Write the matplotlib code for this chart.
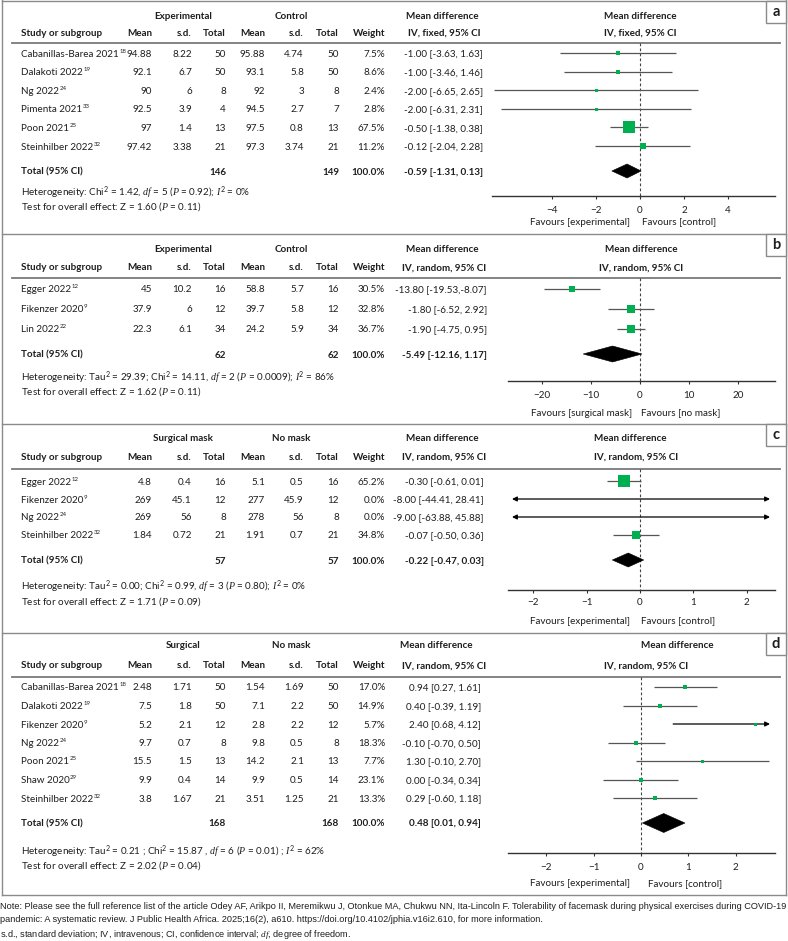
import matplotlib
matplotlib.use('Agg')
import matplotlib.pyplot as plt
from matplotlib.patches import Polygon, Rectangle
import matplotlib.font_manager as fm
import math

W, H, DPI = 788, 941, 100
FS = 7.15
TXT = '#1e1e1e'
BORDER = '#8a8a8a'
GREEN = '#00b050'
CI = '#555555'
AXC = '#333333'

plt.rcParams['font.family'] = ['Lato', 'DejaVu Sans']
plt.rcParams['mathtext.fontset'] = 'custom'
plt.rcParams['mathtext.rm'] = 'Lato'
plt.rcParams['mathtext.it'] = 'Liberation Serif:italic'
plt.rcParams['mathtext.bf'] = 'Lato:bold'

# ---------------- data: panel a ----------------
a_groups = ['Experimental', 'Control']
a_method = 'IV, fixed, 95% CI'
a_studies = ['Cabanillas-Barea 2021', 'Dalakoti 2022', 'Ng 2022', 'Pimenta 2021', 'Poon 2021', 'Steinhilber 2022']
a_refs = ['18', '19', '24', '33', '25', '32']
a_exp_mean = [94.88, 92.1, 90, 92.5, 97, 97.42]
a_exp_sd = [8.22, 6.7, 6, 3.9, 1.4, 3.38]
a_exp_n = [50, 50, 8, 4, 13, 21]
a_ctl_mean = [95.88, 93.1, 92, 94.5, 97.5, 97.3]
a_ctl_sd = [4.74, 5.8, 3, 2.7, 0.8, 3.74]
a_ctl_n = [50, 50, 8, 7, 13, 21]
a_weight = [7.5, 8.6, 2.4, 2.8, 67.5, 11.2]
a_labels = ['-1.00 [-3.63, 1.63]', '-1.00 [-3.46, 1.46]', '-2.00 [-6.65, 2.65]',
            '-2.00 [-6.31, 2.31]', '-0.50 [-1.38, 0.38]', '-0.12 [-2.04, 2.28]']
a_md = [-1.00, -1.00, -2.00, -2.00, -0.50, 0.12]
a_lo = [-3.63, -3.46, -6.65, -6.31, -1.38, -2.04]
a_hi = [1.63, 1.46, 2.65, 2.31, 0.38, 2.28]
a_total_n = [146, 149]
a_total_label = '-0.59 [-1.31, 0.13]'
a_diamond = [-1.28, -0.59, 0.05]
a_het = r'Heterogeneity: Chi$^2$ = 1.42, $\mathit{df}$ = 5 ($\mathit{P}$ = 0.92); $\mathit{I}^2$ = 0%'
a_test = r'Test for overall effect: Z = 1.60 ($\mathit{P}$ = 0.11)'
a_ticks = [-4, -2, 0, 2, 4]
a_favours = ['Favours [experimental]', 'Favours [control]']

# ---------------- data: panel b ----------------
b_groups = ['Experimental', 'Control']
b_method = 'IV, random, 95% CI'
b_studies = ['Egger 2022', 'Fikenzer 2020', 'Lin 2022']
b_refs = ['12', '9', '22']
b_exp_mean = [45, 37.9, 22.3]
b_exp_sd = [10.2, 6, 6.1]
b_exp_n = [16, 12, 34]
b_ctl_mean = [58.8, 39.7, 24.2]
b_ctl_sd = [5.7, 5.8, 5.9]
b_ctl_n = [16, 12, 34]
b_weight = [30.5, 32.8, 36.7]
b_labels = ['-13.80 [-19.53,-8.07]', '-1.80 [-6.52, 2.92]', '-1.90 [-4.75, 0.95]']
b_md = [-13.80, -1.80, -1.90]
b_lo = [-19.53, -6.52, -4.75]
b_hi = [-8.07, 2.92, 0.95]
b_total_n = [62, 62]
b_total_label = '-5.49 [-12.16, 1.17]'
b_diamond = [-11.6, -5.6, 0.4]
b_het = r'Heterogeneity: Tau$^2$ = 29.39; Chi$^2$ = 14.11, $\mathit{df}$ = 2 ($\mathit{P}$ = 0.0009); $\mathit{I}^2$ = 86%'
b_test = r'Test for overall effect: Z = 1.62 ($\mathit{P}$ = 0.11)'
b_ticks = [-20, -10, 0, 10, 20]
b_favours = ['Favours [surgical mask]', 'Favours [no mask]']

# ---------------- data: panel c ----------------
c_groups = ['Surgical mask', 'No mask']
c_method = 'IV, random, 95% CI'
c_studies = ['Egger 2022', 'Fikenzer 2020', 'Ng 2022', 'Steinhilber 2022']
c_refs = ['12', '9', '24', '32']
c_exp_mean = [4.8, 269, 269, 1.84]
c_exp_sd = [0.4, 45.1, 56, 0.72]
c_exp_n = [16, 12, 8, 21]
c_ctl_mean = [5.1, 277, 278, 1.91]
c_ctl_sd = [0.5, 45.9, 56, 0.7]
c_ctl_n = [16, 12, 8, 21]
c_weight = [65.2, 0.0, 0.0, 34.8]
c_labels = ['-0.30 [-0.61, 0.01]', '-8.00 [-44.41, 28.41]', '-9.00 [-63.88, 45.88]', '-0.07 [-0.50, 0.36]']
c_md = [-0.30, -8.00, -9.00, -0.07]
c_lo = [-0.61, -44.41, -63.88, -0.50]
c_hi = [0.01, 28.41, 45.88, 0.36]
c_total_n = [57, 57]
c_total_label = '-0.22 [-0.47, 0.03]'
c_diamond = [-0.52, -0.22, 0.07]
c_het = r'Heterogeneity: Tau$^2$ = 0.00; Chi$^2$ = 0.99, $\mathit{df}$ = 3 ($\mathit{P}$ = 0.80); $\mathit{I}^2$ = 0%'
c_test = r'Test for overall effect: Z = 1.71 ($\mathit{P}$ = 0.09)'
c_ticks = [-2, -1, 0, 1, 2]
c_favours = ['Favours [experimental]', 'Favours [control]']

# ---------------- data: panel d ----------------
d_groups = ['Surgical', 'No mask']
d_method = 'IV, random, 95% CI'
d_studies = ['Cabanillas-Barea 2021', 'Dalakoti 2022', 'Fikenzer 2020', 'Ng 2022', 'Poon 2021', 'Shaw 2020', 'Steinhilber 2022']
d_refs = ['18', '19', '9', '24', '25', '29', '32']
d_exp_mean = [2.48, 7.5, 5.2, 9.7, 15.5, 9.9, 3.8]
d_exp_sd = [1.71, 1.8, 2.1, 0.7, 1.5, 0.4, 1.67]
d_exp_n = [50, 50, 12, 8, 13, 14, 21]
d_ctl_mean = [1.54, 7.1, 2.8, 9.8, 14.2, 9.9, 3.51]
d_ctl_sd = [1.69, 2.2, 2.2, 0.5, 2.1, 0.5, 1.25]
d_ctl_n = [50, 50, 12, 8, 13, 14, 21]
d_weight = [17.0, 14.9, 5.7, 18.3, 7.7, 23.1, 13.3]
d_labels = ['0.94 [0.27, 1.61]', '0.40 [-0.39, 1.19]', '2.40 [0.68, 4.12]', '-0.10 [-0.70, 0.50]',
            '1.30 [-0.10, 2.70]', '0.00 [-0.34, 0.34]', '0.29 [-0.60, 1.18]']
d_md = [0.94, 0.40, 2.40, -0.10, 1.30, 0.00, 0.29]
d_lo = [0.27, -0.39, 0.68, -0.70, -0.10, -0.80, -0.60]
d_hi = [1.61, 1.19, 4.12, 0.50, 2.70, 0.78, 1.18]
d_total_n = [168, 168]
d_total_label = '0.48 [0.01, 0.94]'
d_diamond = [0.03, 0.48, 0.93]
d_het = r'Heterogeneity: Tau$^2$ = 0.21 ; Chi$^2$ = 15.87 , $\mathit{df}$ = 6 ($\mathit{P}$ = 0.01) ; $\mathit{I}^2$ = 62%'
d_test = r'Test for overall effect: Z = 2.02 ($\mathit{P}$ = 0.04)'
d_ticks = [-2, -1, 0, 1, 2]
d_favours = ['Favours [experimental]', 'Favours [control]']

col_headers = ['Mean', 's.d.', 'Total', 'Mean', 's.d.', 'Total', 'Weight']
note_lines = [
    'Note: Please see the full reference list of the article Odey AF, Arikpo II, Meremikwu J, Otonkue MA, Chukwu NN, Ita-Lincoln F. Tolerability of facemask during physical exercises during COVID-19',
    'pandemic: A systematic review. J Public Health Africa. 2025;16(2), a610. https://doi.org/10.4102/jphia.v16i2.610, for more information.',
    r's.d., standard deviation; IV, intravenous; CI, confidence interval; $\mathit{df}$, degree of freedom.',
]

datasets = {
    'a': dict(groups=a_groups, method=a_method, studies=a_studies, refs=a_refs, em=a_exp_mean, esd=a_exp_sd, en=a_exp_n,
              cm=a_ctl_mean, csd=a_ctl_sd, cn=a_ctl_n, w=a_weight, labels=a_labels, md=a_md, lo=a_lo, hi=a_hi,
              tn=a_total_n, tl=a_total_label, dia=a_diamond, het=a_het, test=a_test, ticks=a_ticks, fav=a_favours),
    'b': dict(groups=b_groups, method=b_method, studies=b_studies, refs=b_refs, em=b_exp_mean, esd=b_exp_sd, en=b_exp_n,
              cm=b_ctl_mean, csd=b_ctl_sd, cn=b_ctl_n, w=b_weight, labels=b_labels, md=b_md, lo=b_lo, hi=b_hi,
              tn=b_total_n, tl=b_total_label, dia=b_diamond, het=b_het, test=b_test, ticks=b_ticks, fav=b_favours),
    'c': dict(groups=c_groups, method=c_method, studies=c_studies, refs=c_refs, em=c_exp_mean, esd=c_exp_sd, en=c_exp_n,
              cm=c_ctl_mean, csd=c_ctl_sd, cn=c_ctl_n, w=c_weight, labels=c_labels, md=c_md, lo=c_lo, hi=c_hi,
              tn=c_total_n, tl=c_total_label, dia=c_diamond, het=c_het, test=c_test, ticks=c_ticks, fav=c_favours),
    'd': dict(groups=d_groups, method=d_method, studies=d_studies, refs=d_refs, em=d_exp_mean, esd=d_exp_sd, en=d_exp_n,
              cm=d_ctl_mean, csd=d_ctl_sd, cn=d_ctl_n, w=d_weight, labels=d_labels, md=d_md, lo=d_lo, hi=d_hi,
              tn=d_total_n, tl=d_total_label, dia=d_diamond, het=d_het, test=d_test, ticks=d_ticks, fav=d_favours),
}

# ---------------- layout (pixels) ----------------
COL_R = [152, 192, 226, 265, 304, 339, 385]
GRP_X = [183, 291]
STUDY_X = 21
layouts = [
    dict(letter='a', top=0, grp_y=15, col_y=32, rule_y=43, row0=53, step=18.6, total_y=171, het_y=192, test_y=206,
         axis_y=196, tick_y=211, fav_y=221, x0=492, x1=775, zero_px=640, ppu=22.0, mh_x=442, mm_x=444,
         rh_x=640, rm_x=640, md_r=483, k=1.58, hh=7, fav_l=630, fav_r=642),
    dict(letter='b', top=233, grp_y=248, col_y=267, rule_y=278, row0=289, step=20, total_y=354, het_y=377, test_y=391,
         axis_y=381, tick_y=396, fav_y=412, x0=508, x1=775, zero_px=640, ppu=4.9, mh_x=442, mm_x=444,
         rh_x=641, rm_x=641, md_r=487, k=1.24, hh=8, fav_l=632, fav_r=641),
    dict(letter='c', top=423, grp_y=437, col_y=456, rule_y=469, row0=481, step=18, total_y=560, het_y=586, test_y=601,
         axis_y=590, tick_y=603, fav_y=620, x0=508, x1=775, zero_px=640, ppu=53.3, mh_x=442, mm_x=444,
         rh_x=630, rm_x=636, md_r=484, k=1.49, hh=7, fav_l=630, fav_r=641),
    dict(letter='d', top=632, grp_y=645, col_y=665, rule_y=677, row0=687, step=18.5, total_y=823, het_y=851, test_y=865,
         axis_y=853, tick_y=868, fav_y=883, x0=508, x1=775, zero_px=641, ppu=47.3, mh_x=436, mm_x=444,
         rh_x=677, rm_x=646, md_r=481, k=1.0, hh=9.5, fav_l=630, fav_r=648),
]
BOTTOM = 895
BL = 3.5  # baseline offset from text centre (px)

fig = plt.figure(figsize=(W / DPI, H / DPI), dpi=DPI)
fig.patch.set_facecolor('white')
bg = fig.add_axes([0, 0, 1, 1])
bg.set_xlim(0, W)
bg.set_ylim(H, 0)
bg.axis('off')


def T(x, y, s, ha='left', bold=False, size=FS, **kw):
    return bg.text(x, y + BL, s, ha=ha, va='baseline', fontsize=size,
                   fontweight='bold' if bold else 'normal', color=TXT, **kw)


# outer border
bg.plot([2, 2], [0, BOTTOM], color=BORDER, lw=1.0)
bg.plot([786, 786], [0, BOTTOM], color=BORDER, lw=1.0)
bg.plot([2, 786], [BOTTOM, BOTTOM], color=BORDER, lw=1.0)

name_texts = []  # (text artist, ref string, y)

for P in layouts:
    D = datasets[P['letter']]
    top = P['top']
    bg.plot([2, 786], [top + 0.5, top + 0.5], color=BORDER, lw=1.0)
    bg.add_patch(Rectangle((766, top + 0.5), 20, 22, fc='white', ec=BORDER, lw=1.0, zorder=3))
    bg.text(776, top + 12, P['letter'], ha='center', va='center', fontsize=10.5, fontweight='bold', color=TXT, zorder=4)

    # headers
    T(GRP_X[0], P['grp_y'], D['groups'][0], ha='center', bold=True)
    T(GRP_X[1], P['grp_y'], D['groups'][1], ha='center', bold=True)
    T(P['mh_x'], P['grp_y'], 'Mean difference', ha='center', bold=True)
    T(P['rh_x'], P['grp_y'], 'Mean difference', ha='center', bold=True)
    T(STUDY_X, P['col_y'], 'Study or subgroup', bold=True)
    for xr, h in zip(COL_R, col_headers):
        T(xr, P['col_y'], h, ha='right', bold=True)
    T(P['mm_x'], P['col_y'], D['method'], ha='center', bold=True)
    T(P['rm_x'], P['col_y'], D['method'], ha='center', bold=True)
    bg.plot([12, 780], [P['rule_y'], P['rule_y']], color='#7a7a7a', lw=1.3)

    # study rows (text)
    n = len(D['studies'])
    ys = [P['row0'] + i * P['step'] for i in range(n)]
    for i, y in enumerate(ys):
        t = T(STUDY_X, y, D['studies'][i])
        name_texts.append((t, D['refs'][i], y))
        vals = [D['em'][i], D['esd'][i], D['en'][i], D['cm'][i], D['csd'][i], D['cn'][i], f"{D['w'][i]:.1f}%"]
        for xr, v in zip(COL_R, vals):
            T(xr, y, str(v), ha='right')
        T(P['md_r'], y, D['labels'][i], ha='right')

    # total row
    T(STUDY_X, P['total_y'], 'Total (95% CI)', bold=True)
    T(COL_R[2], P['total_y'], str(D['tn'][0]), ha='right', bold=True)
    T(COL_R[5], P['total_y'], str(D['tn'][1]), ha='right', bold=True)
    T(COL_R[6], P['total_y'], '100.0%', ha='right', bold=True)
    T(P['md_r'], P['total_y'], D['tl'], ha='right', bold=True)
    T(STUDY_X, P['het_y'], D['het'])
    T(STUDY_X, P['test_y'], D['test'])

    # forest axis
    x0, x1, z, ppu = P['x0'], P['x1'], P['zero_px'], P['ppu']
    xlim = ((x0 - z) / ppu, (x1 - z) / ppu)
    ax = fig.add_axes([x0 / W, 1 - P['axis_y'] / H, (x1 - x0) / W, (P['axis_y'] - P['rule_y']) / H])
    ax.set_xlim(*xlim)
    ax.set_ylim(P['axis_y'], P['rule_y'])
    ax.patch.set_alpha(0)
    for s in ['top', 'left', 'right']:
        ax.spines[s].set_visible(False)
    ax.spines['bottom'].set_color(AXC)
    ax.spines['bottom'].set_linewidth(1.0)
    ax.set_yticks([])
    ax.set_xticks(D['ticks'])
    pad_px = P['tick_y'] - P['axis_y'] - 3 - 5
    ax.tick_params(axis='x', direction='out', length=2.2, width=0.8, color=AXC,
                   labelsize=FS, labelcolor=TXT, pad=pad_px * 0.72)
    ax.plot([0, 0], [P['rule_y'], P['axis_y']], color='#444444', lw=0.8, ls=(0, (2.5, 2)), zorder=1)

    lo_lim = xlim[0] + 4 / ppu
    hi_lim = xlim[1] - 5 / ppu
    for i, y in enumerate(ys):
        lo, hi, md, w = D['lo'][i], D['hi'][i], D['md'][i], D['w'][i]
        la, ra = lo < xlim[0], hi > xlim[1]
        lo_c = lo_lim if la else lo
        hi_c = hi_lim if ra else hi
        if la or ra:
            style = '<|-|>' if (la and ra) else ('<|-' if la else '-|>')
            ax.annotate('', xy=(hi_c, y), xytext=(lo_c, y),
                        arrowprops=dict(arrowstyle=style, color='black', lw=0.9,
                                        shrinkA=0, shrinkB=0, mutation_scale=7))
        else:
            ax.plot([lo, hi], [y, y], color=CI, lw=0.9, solid_capstyle='butt', zorder=2, clip_on=False)
        if w > 0 and xlim[0] < md < xlim[1]:
            side = max(3.0, P['k'] * math.sqrt(w)) * 0.72
            ax.scatter([md], [y], s=side ** 2, marker='s', color=GREEN, linewidths=0, zorder=3)

    dl, dm, dh = D['dia']
    ty, hh = P['total_y'], P['hh']
    ax.add_patch(Polygon([(dl, ty), (dm, ty - hh), (dh, ty), (dm, ty + hh)], closed=True,
                         fc='black', ec='black', lw=0.4, zorder=3))

    T(P['fav_l'], P['fav_y'], D['fav'][0], ha='right')
    T(P['fav_r'], P['fav_y'], D['fav'][1], ha='left')

# notes
names = {f.name for f in fm.fontManager.ttflist}
note_font = ['Liberation Sans Narrow', 'DejaVu Sans'] if 'Liberation Sans Narrow' in names else ['Liberation Sans', 'DejaVu Sans']
note_y = [906, 919, 934]
nts = []
for s, y in zip(note_lines, note_y):
    nts.append(bg.text(0.5, y + 3, s, ha='left', va='baseline', fontsize=7, color=TXT, family=note_font))
fig.canvas.draw()
r = fig.canvas.get_renderer()
wpx = nts[0].get_window_extent(r).width
new_fs = 7 * 786 / wpx
for t in nts:
    t.set_fontsize(new_fs)

# superscript reference numbers after study names
for t, ref, y in name_texts:
    ext = t.get_window_extent(r)
    bg.text(ext.x1 + 0.4, y - 0.5, ref, ha='left', va='baseline', fontsize=4.3, color=TXT)

fig.savefig('out.png', dpi=DPI, facecolor='white')
